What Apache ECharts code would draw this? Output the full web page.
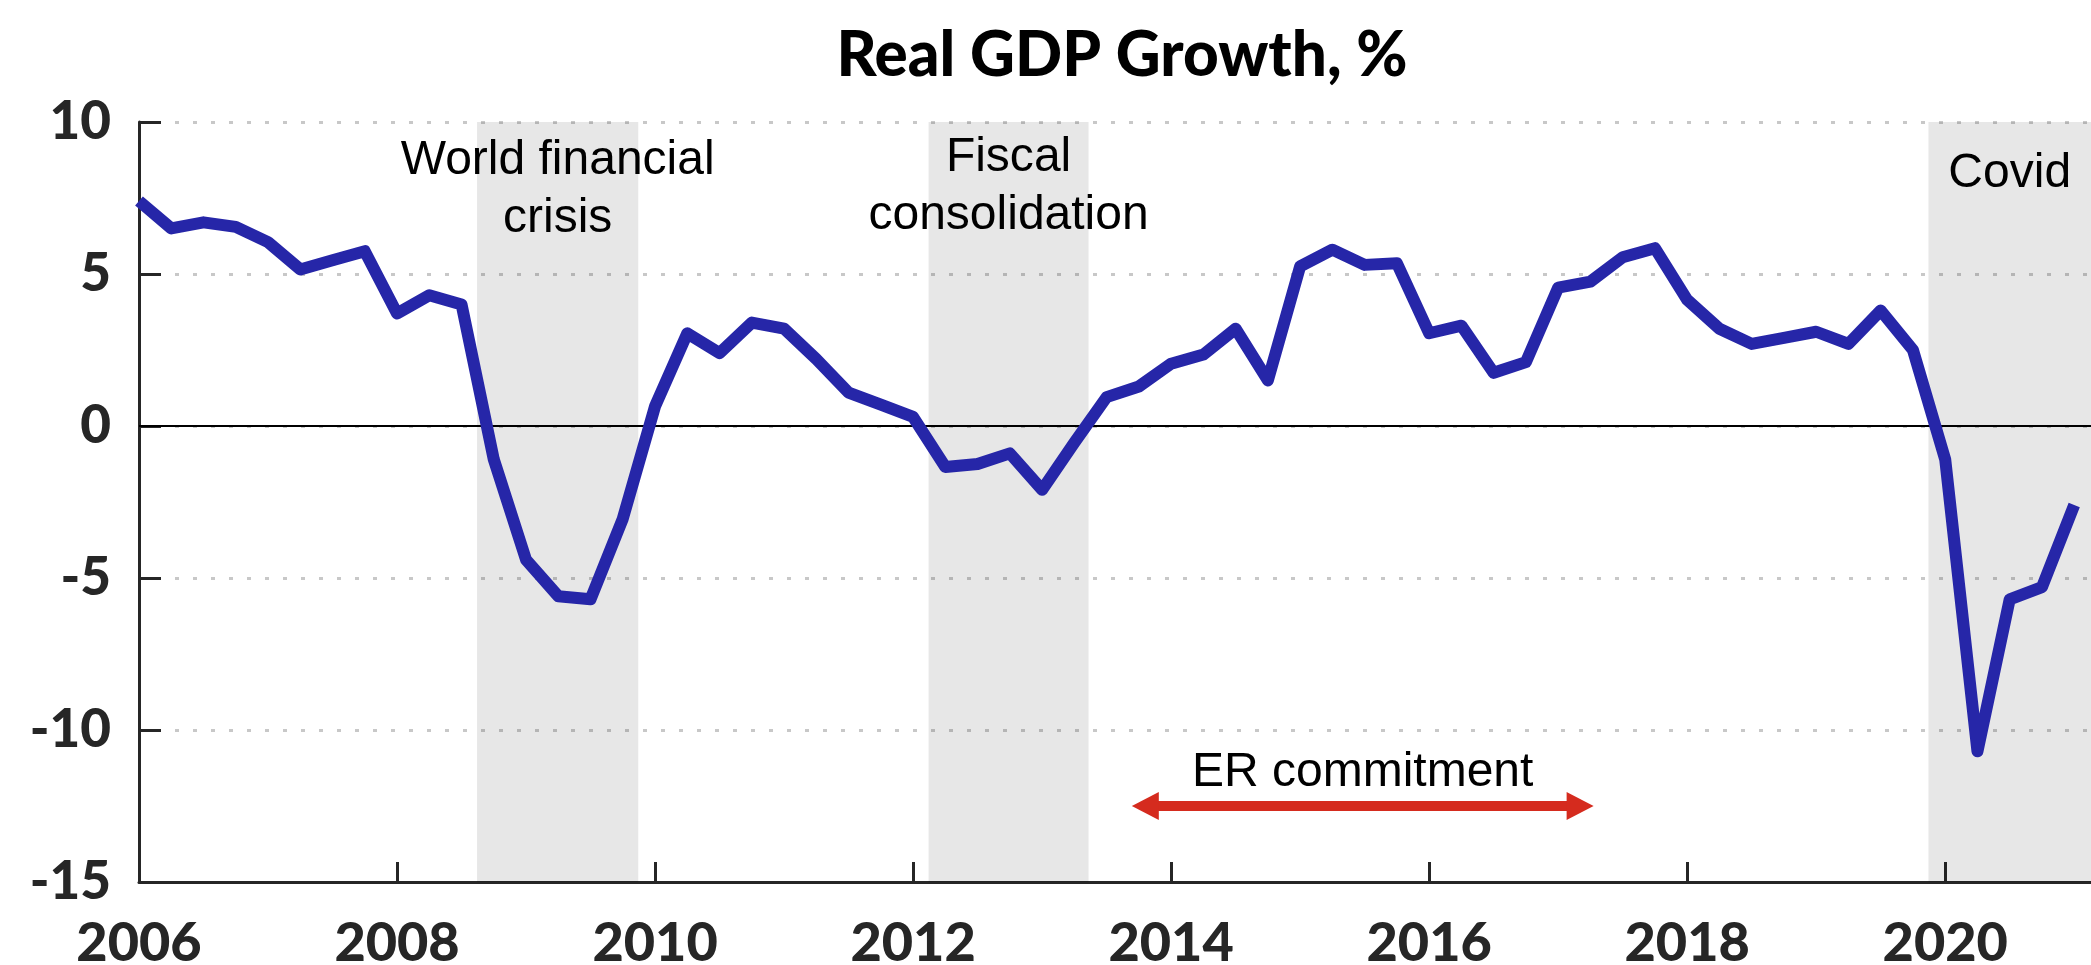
<!DOCTYPE html>
<html>
<head>
<meta charset="utf-8">
<script src="https://cdn.jsdelivr.net/npm/echarts@6/dist/echarts.min.js"></script>
<style>
	html, body { margin: 0; padding: 0; background: #fff; }
	#chart { width: 2091px; height: 965px; }
</style>
</head>
<body>
<div id="chart"></div>
<script>
// quarterly observations
const quarters = [
	'2006Q1', '2006Q2', '2006Q3', '2006Q4',
	'2007Q1', '2007Q2', '2007Q3', '2007Q4',
	'2008Q1', '2008Q2', '2008Q3', '2008Q4',
	'2009Q1', '2009Q2', '2009Q3', '2009Q4',
	'2010Q1', '2010Q2', '2010Q3', '2010Q4',
	'2011Q1', '2011Q2', '2011Q3', '2011Q4',
	'2012Q1', '2012Q2', '2012Q3', '2012Q4',
	'2013Q1', '2013Q2', '2013Q3', '2013Q4',
	'2014Q1', '2014Q2', '2014Q3', '2014Q4',
	'2015Q1', '2015Q2', '2015Q3', '2015Q4',
	'2016Q1', '2016Q2', '2016Q3', '2016Q4',
	'2017Q1', '2017Q2', '2017Q3', '2017Q4',
	'2018Q1', '2018Q2', '2018Q3', '2018Q4',
	'2019Q1', '2019Q2', '2019Q3', '2019Q4',
	'2020Q1', '2020Q2', '2020Q3', '2020Q4',
	'2021Q1'
]
const gdpGrowth = [
	7.4, 6.5, 6.7, 6.55,
	6.05, 5.15, 5.45, 5.75,
	3.7, 4.3, 4.0, -1.1,
	-4.4, -5.6, -5.7, -3.05,
	0.65, 3.05, 2.4, 3.4,
	3.2, 2.2, 1.1, 0.7,
	0.3, -1.35, -1.25, -0.9,
	-2.1, -0.55, 0.95, 1.3,
	2.05, 2.35, 3.2, 1.5,
	5.25, 5.8, 5.3, 5.35,
	3.05, 3.3, 1.75, 2.1,
	4.55, 4.75, 5.55, 5.85,
	4.15, 3.2, 2.7, 2.9,
	3.1, 2.7, 3.8, 2.5,
	-1.1, -10.7, -5.7, -5.3,
	-2.6
]
const xTicks = [2006, 2008, 2010, 2012, 2014, 2016, 2018, 2020]
const yTicks = [-15, -10, -5, 0, 5, 10]

// shaded episodes
const episodeNames = ['World financial\ncrisis', 'Fiscal\nconsolidation', 'Covid']
const episodeFrom = [2008.62, 2012.12, 2019.87]
const episodeTo = [2009.87, 2013.36, 2021.13]

// ER commitment arrow
const erLabel = 'ER commitment'
const erFrom = 2013.8
const erTo = 2017.17
const erLevel = -12.5

const xMax = 2021.13
const labelGap = [10, 7, 23]

const chart = echarts.init(document.getElementById('chart'))
const points = quarters.map((q, i) => {
	const year = Number(q.slice(0, 4))
	const qn = Number(q.slice(5))
	return [year + (qn - 1) / 4, gdpGrowth[i]]
})

const axisColor = '#262626'
const option = {
	backgroundColor: '#fff',
	animation: false,
	title: {
		text: 'Real GDP Growth, %',
		left: 1122,
		top: 25,
		padding: 0,
		textAlign: 'center',
		textStyle: { fontFamily: 'Lato', fontWeight: 900, fontSize: 62, color: '#000' }
	},
	grid: { left: 139, right: 0, top: 122, bottom: 83, outerBoundsMode: 'none', containLabel: false },
	xAxis: {
		type: 'value',
		min: 2006,
		max: xMax,
		interval: 2,
		splitLine: { show: false },
		axisLine: { show: true, onZero: false, lineStyle: { color: axisColor, width: 3 } },
		axisTick: {
			show: true,
			inside: true,
			length: 20,
			customValues: xTicks,
			lineStyle: { color: axisColor, width: 3 }
		},
		axisLabel: {
			customValues: xTicks,
			formatter: (v) => String(v),
			margin: 35,
			fontFamily: 'Lato',
			fontWeight: 900,
			fontSize: 54,
			color: axisColor
		}
	},
	yAxis: {
		type: 'value',
		min: yTicks[0],
		max: yTicks[yTicks.length - 1],
		interval: 5,
		axisLine: { show: true, lineStyle: { color: axisColor, width: 3 } },
		axisTick: { show: true, inside: true, length: 22, lineStyle: { color: axisColor, width: 3 } },
		axisLabel: {
			margin: 28,
			fontFamily: 'Lato',
			fontWeight: 900,
			fontSize: 53,
			color: axisColor
		},
		splitLine: { show: true, lineStyle: { type: [4, 14], width: 3, color: '#c8c8c8' } }
	},
	series: [
		{
			name: 'Real GDP growth',
			type: 'line',
			z: 3,
			data: points,
			showSymbol: false,
			symbol: 'none',
			lineStyle: { color: '#2626a8', width: 12, join: 'round', cap: 'butt' },
			markArea: {
				silent: true,
				z: 0.5,
				itemStyle: { color: 'rgba(0, 0, 0, 0.094)' },
				label: {
					show: true,
					position: 'insideTop',
					color: '#000',
					fontFamily: 'Liberation Sans',
					fontSize: 48,
					lineHeight: 58
				},
				data: episodeNames.map((n, i) => [
					{ name: n, xAxis: episodeFrom[i], label: { distance: labelGap[i] } },
					{ xAxis: episodeTo[i] }
				])
			},
			markLine: {
				silent: true,
				z: 1,
				symbol: ['none', 'none'],
				data: [
					{
						yAxis: 0,
						lineStyle: { color: '#000', width: 2, type: 'solid' },
						label: { show: false }
					},
					[
						{
							coord: [erFrom, erLevel],
							symbol: 'triangle',
							symbolSize: [28, 27],
							lineStyle: { color: '#d52b1e', width: 10, type: 'solid' },
							label: {
								show: true,
								position: 'middle',
								formatter: erLabel,
								distance: 9,
								color: '#000',
								fontFamily: 'Liberation Sans',
								fontSize: 48
							}
						},
						{ coord: [erTo, erLevel], symbol: 'triangle', symbolSize: [28, 27] }
					]
				]
			}
		}
	]
}
chart.setOption(option)
</script>
</body>
</html>
